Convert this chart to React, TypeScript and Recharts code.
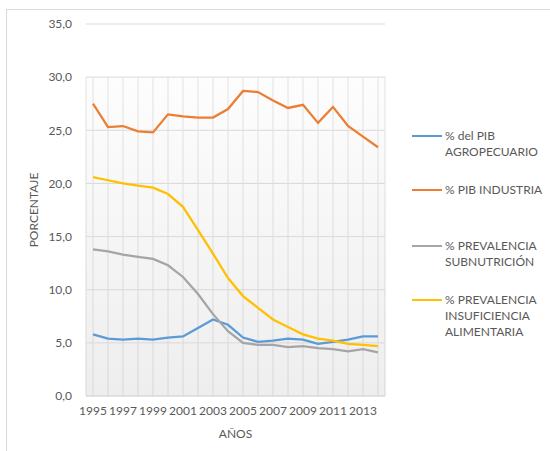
import React from "react";
import {
  LineChart,
  Line,
  XAxis,
  YAxis,
  CartesianGrid,
} from "recharts";

const years = [
  "1995", "1996", "1997", "1998", "1999", "2000", "2001", "2002", "2003", "2004",
  "2005", "2006", "2007", "2008", "2009", "2010", "2011", "2012", "2013", "2014",
];

const pibAgro = [
  5.8, 5.4, 5.3, 5.4, 5.3, 5.5, 5.6, 6.4, 7.2, 6.7,
  5.5, 5.1, 5.2, 5.4, 5.3, 4.9, 5.1, 5.3, 5.6, 5.6,
];

const pibIndustria = [
  27.5, 25.3, 25.4, 24.9, 24.8, 26.5, 26.3, 26.2, 26.2, 27.0,
  28.7, 28.6, 27.8, 27.1, 27.4, 25.7, 27.2, 25.4, 24.4, 23.4,
];

const subnutricion = [
  13.8, 13.6, 13.3, 13.1, 12.9, 12.3, 11.2, 9.6, 7.7, 6.1,
  5.0, 4.8, 4.8, 4.6, 4.7, 4.5, 4.4, 4.2, 4.4, 4.1,
];

const insuficiencia = [
  20.6, 20.3, 20.0, 19.8, 19.6, 19.0, 17.8, 15.6, 13.4, 11.1,
  9.4, 8.3, 7.2, 6.5, 5.8, 5.4, 5.2, 4.9, 4.8, 4.7,
];

const yTicks = [0, 5, 10, 15, 20, 25, 30, 35];

const series = [
  { key: "agro", name: "% del PIB AGROPECUARIO", color: "#5b9bd5" },
  { key: "industria", name: "% PIB INDUSTRIA", color: "#ed7d31" },
  { key: "subnutricion", name: "% PREVALENCIA SUBNUTRICIÓN", color: "#a5a5a5" },
  { key: "insuficiencia", name: "% PREVALENCIA INSUFICIENCIA ALIMENTARIA", color: "#ffc000" },
];

const data = years.map((year, i) => ({
  year,
  agro: pibAgro[i],
  industria: pibIndustria[i],
  subnutricion: subnutricion[i],
  insuficiencia: insuficiencia[i],
}));

const FONT = "Lato, 'Open Sans', sans-serif";
const TEXT = "#595959";

// legend rows sit at uneven heights, like the original
const legendTops = [0, 54, 110, 164];

function ChartLegend() {
  return (
    <div style={{ position: "absolute", left: 412, top: 128, width: 140, height: 220 }}>
      {series.map((s, i) => (
        <div
          key={s.key}
          style={{ position: "absolute", left: 0, top: legendTops[i], display: "flex" }}
        >
          <div
            style={{
              width: 30,
              height: 2,
              marginTop: 7,
              marginRight: 3,
              background: s.color,
              flexShrink: 0,
            }}
          />
          <div
            style={{
              width: 104,
              fontFamily: FONT,
              fontSize: 12,
              lineHeight: "16px",
              color: TEXT,
            }}
          >
            {s.name}
          </div>
        </div>
      ))}
    </div>
  );
}

export default function App() {
  return (
    <div
      style={{
        position: "fixed",
        left: 0,
        top: 0,
        width: 550,
        height: 451,
        overflow: "hidden",
        background: "#fff",
      }}
    >
      <div
        style={{
          position: "absolute",
          left: 6,
          top: 9,
          width: 580,
          height: 480,
          border: "1px solid #d9d9d9",
        }}
      />
      <div style={{ position: "absolute", left: 0, top: 0 }}>
        <LineChart
          width={550}
          height={451}
          data={data}
          margin={{ top: 24, right: 165, bottom: 10, left: 30 }}
        >
          <defs>
            <linearGradient id="plotBg" gradientUnits="userSpaceOnUse" x1="0" y1="24" x2="0" y2="396">
              <stop offset="0" stopColor="#ffffff" />
              <stop offset="0.142" stopColor="#ffffff" />
              <stop offset="0.143" stopColor="#fdfdfd" />
              <stop offset="1" stopColor="#eeeeee" />
            </linearGradient>
            <linearGradient id="vGrid" gradientUnits="userSpaceOnUse" x1="0" y1="24" x2="0" y2="396">
              <stop offset="0" stopColor="#d9d9d9" stopOpacity={0} />
              <stop offset="0.142" stopColor="#d9d9d9" stopOpacity={0} />
              <stop offset="0.143" stopColor="#e3e3e3" stopOpacity={1} />
              <stop offset="1" stopColor="#d6d6d6" stopOpacity={1} />
            </linearGradient>
          </defs>
          <CartesianGrid vertical={false} stroke="#d9d9d9" fill="url(#plotBg)" />
          <CartesianGrid horizontal={false} stroke="url(#vGrid)" />
          <XAxis
            dataKey="year"
            interval={0}
            padding={{ left: 7, right: 7 }}
            tickLine={false}
            axisLine={{ stroke: "#d9d9d9" }}
            tickMargin={4}
            height={45}
            tickFormatter={(v: string, i: number) => (i % 2 === 0 ? v : "")}
            tick={{ fill: TEXT, fontSize: 12, fontFamily: FONT }}
            label={{
              value: "AÑOS",
              position: "insideBottom",
              offset: 3,
              fill: TEXT,
              fontSize: 12,
              fontFamily: FONT,
            }}
          />
          <YAxis
            domain={[0, 35]}
            ticks={yTicks}
            width={56}
            tickLine={false}
            axisLine={false}
            tickMargin={8}
            tickFormatter={(v: number) => v.toFixed(1).replace(".", ",")}
            tick={{ fill: TEXT, fontSize: 12, fontFamily: FONT }}
            label={{
              value: "PORCENTAJE",
              angle: -90,
              position: "insideLeft",
              offset: 4,
              style: { textAnchor: "middle" },
              fill: TEXT,
              fontSize: 12,
              fontFamily: FONT,
            }}
          />
          {series.map((s) => (
            <Line
              key={s.key}
              type="linear"
              dataKey={s.key}
              name={s.name}
              stroke={s.color}
              strokeWidth={2.25}
              dot={false}
              activeDot={false}
              isAnimationActive={false}
            />
          ))}
        </LineChart>
      </div>
      <ChartLegend />
    </div>
  );
}
